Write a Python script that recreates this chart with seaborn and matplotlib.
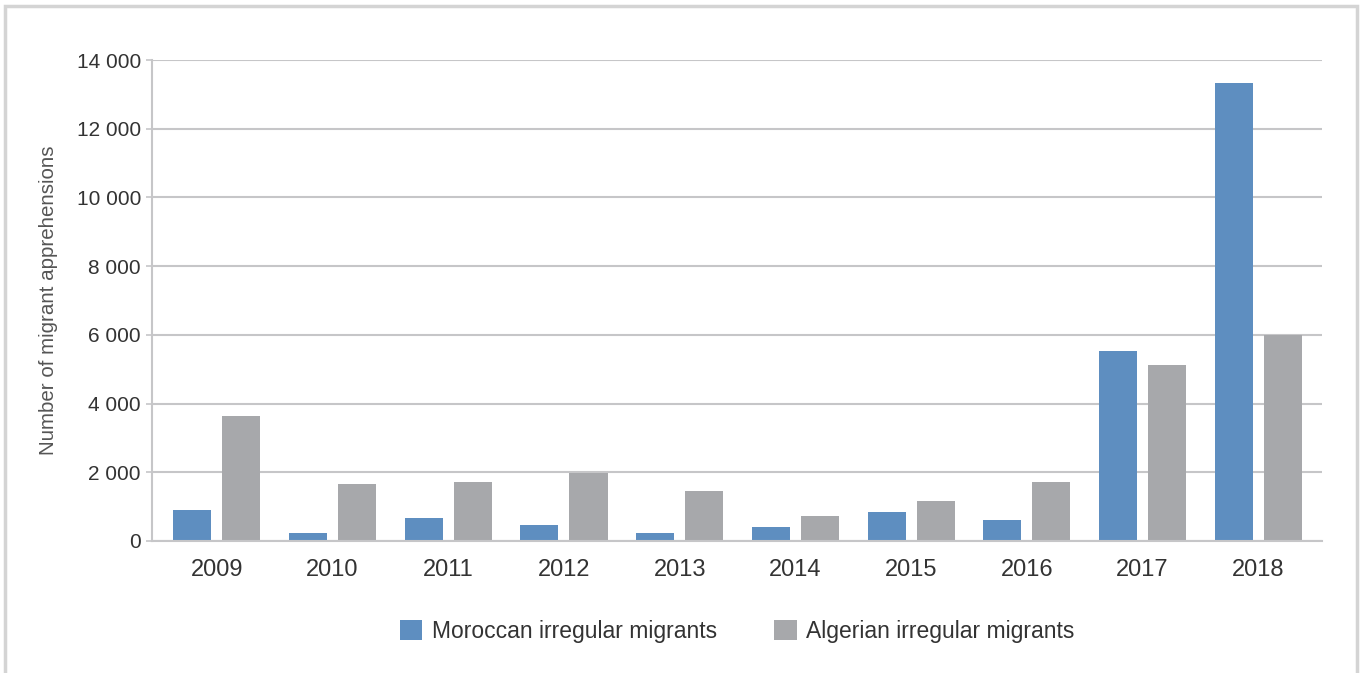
import matplotlib
matplotlib.use("Agg")
import matplotlib.pyplot as plt
import matplotlib.ticker as mticker
from matplotlib.patches import Rectangle
import seaborn as sns
import pandas as pd

years = ["2009", "2010", "2011", "2012", "2013", "2014", "2015", "2016", "2017", "2018"]
moroccan = [900, 230, 670, 470, 230, 410, 840, 610, 5530, 13330]
algerian = [3640, 1660, 1720, 1980, 1460, 730, 1170, 1720, 5120, 6000]
series_names = ["Moroccan irregular migrants", "Algerian irregular migrants"]

df = pd.DataFrame({
    "year": years * 2,
    "value": moroccan + algerian,
    "series": [series_names[0]] * len(years) + [series_names[1]] * len(years),
})

sns.set_theme(style="white")
plt.rcParams["font.family"] = ["Liberation Sans", "DejaVu Sans"]

text_color = "#333333"
grid_color = "#c6c6c8"
palette = {series_names[0]: "#5e8ec0", series_names[1]: "#a7a8ab"}

fig = plt.figure(figsize=(13.6, 6.73), dpi=100)
ax = fig.add_axes([152 / 1360, 1 - 541 / 673, (1322 - 152) / 1360, (541 - 60) / 673])

sns.barplot(data=df, x="year", y="value", hue="series", palette=palette,
            width=0.847, gap=0.224, saturation=1, linewidth=0, ax=ax, legend=True)

ax.set_ylim(0, 14000)
ax.set_xlim(-0.56, 9.55)
ax.yaxis.set_major_locator(mticker.MultipleLocator(2000))
ax.yaxis.set_major_formatter(mticker.FuncFormatter(lambda v, p: f"{int(v):,}".replace(",", " ")))
ax.yaxis.grid(True, color=grid_color, linewidth=1.5)
ax.set_axisbelow(True)

for s in ["top", "right"]:
    ax.spines[s].set_visible(False)
for s in ["left", "bottom"]:
    ax.spines[s].set_color(grid_color)
    ax.spines[s].set_linewidth(1.5)

ax.tick_params(axis="y", length=4, width=1.2, color=grid_color, labelsize=15,
               labelcolor=text_color, pad=4, left=True)
ax.tick_params(axis="x", length=0, labelsize=17, labelcolor=text_color, pad=13)
ax.set_xlabel("")
ax.set_ylabel("Number of migrant apprehensions", fontsize=14.8, color="#555555", labelpad=13)

ax.legend(loc="center", bbox_to_anchor=(0.5, -0.188), ncol=2, frameon=False,
          fontsize=16.5, handlelength=1.0, handleheight=1.0, columnspacing=2.5,
          handletextpad=0.4, labelcolor=text_color)

fig.patches.append(Rectangle((5 / 1360, -0.05), 1352 / 1360, 1.05 - 6 / 673,
                             transform=fig.transFigure, fill=False,
                             edgecolor="#d4d4d4", linewidth=2.5))

fig.savefig("out.png", dpi=100)
